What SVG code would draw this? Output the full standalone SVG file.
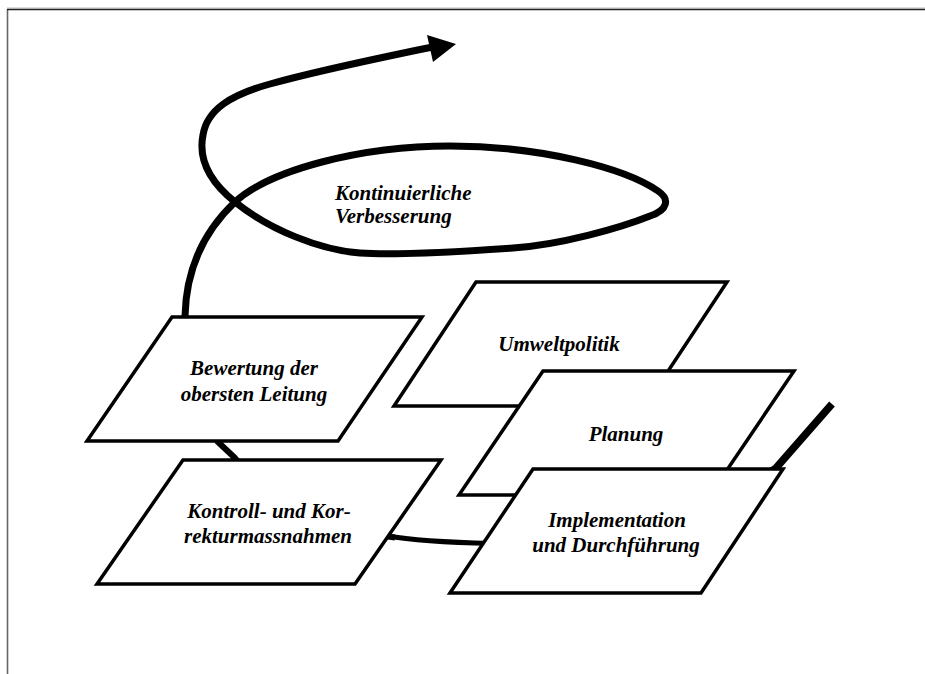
<svg xmlns="http://www.w3.org/2000/svg" width="925" height="674" viewBox="0 0 925 674">
  <style>
    .frame-dark { fill: none; stroke: #222; stroke-width: 1.5; }
    .frame-light { fill: none; stroke: #bdbdbd; stroke-width: 1; }
    .frame-left { fill: none; stroke: #666; stroke-width: 1.6; }
    .flow { fill: none; stroke: #000; stroke-linecap: butt; stroke-linejoin: round; }
    .box { fill: #fff; stroke: #000; stroke-width: 3.5; stroke-linejoin: miter; }
    .label { font-family: "Liberation Serif", "Times New Roman", serif; font-size: 21px; font-weight: bold; font-style: italic; fill: #000; text-anchor: middle; }
  </style>

  <rect x="0" y="0" width="925" height="674" fill="#fff"/>

  <!-- page frame -->
  <line class="frame-light" x1="7" y1="8" x2="925" y2="8"/>
  <path class="frame-left" d="M7.5 674 V9.5"/>
  <path class="frame-dark" d="M7 9.5 H925"/>

  <!-- improvement spiral (drawn under the boxes) -->
  <g id="connectors">
    <path class="flow" stroke-width="7.5" d="M832 404 L776 468 L700 520 L490 543"/>
    <path class="flow" stroke-width="5" d="M492 543.5 C452 542.5 416 541 387 536"/>
    <path class="flow" stroke-width="6" d="M395 537.5 C330 530 262 492 235 458 L218 442 C200 420 183 360 185 318"/>
    <path class="flow" stroke-width="7" d="M185 330 L185 316 C186 275 200 235 235 202 C270 170 360 146 450 146 C540 146 625 168 658 191 C670 199 668 210 650 216 C620 228 560 245 513 248 C470 251 400 256 360 253 C320 250 270 230 235 202 C210 182 198 160 203 135 C207 110 230 95 270 84 C320 70 380 58 432 47"/>
    <polygon points="427,35 456,44 433,62" fill="#000"/>
  </g>

  <g id="node-umweltpolitik">
    <polygon class="box" points="476,282 727,282 645,406 394,406"/>
    <text class="label" x="559" y="351">Umweltpolitik</text>
  </g>

  <g id="node-planung">
    <polygon class="box" points="543,371 794,371 710,495 459,495"/>
    <text class="label" x="626" y="441">Planung</text>
  </g>

  <g id="node-implementation">
    <polygon class="box" points="533,469 783,469 701,593 450,593"/>
    <text class="label" x="617" y="527">Implementation</text>
    <text class="label" x="616" y="552">und Durchführung</text>
  </g>

  <g id="node-bewertung">
    <polygon class="box" points="172,317 422,317 338,441 87,441"/>
    <text class="label" x="254" y="375">Bewertung der</text>
    <text class="label" x="254" y="401">obersten Leitung</text>
  </g>

  <g id="node-kontrolle">
    <polygon class="box" points="183,460 441,460 355,584 97,584"/>
    <text class="label" x="269" y="518">Kontroll- und Kor-</text>
    <text class="label" x="268" y="543">rekturmassnahmen</text>
  </g>

  <g id="node-verbesserung">
    <text class="label" x="335" y="200" text-anchor="start" style="text-anchor:start">Kontinuierliche</text>
    <text class="label" x="335" y="223" style="text-anchor:start">Verbesserung</text>
  </g>
</svg>
